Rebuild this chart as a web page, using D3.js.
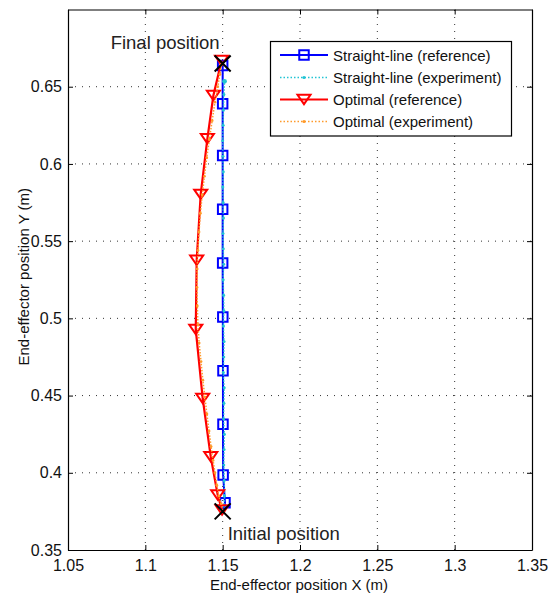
<!DOCTYPE html>
<html>
<head>
<meta charset="utf-8">
<script src="https://cdn.jsdelivr.net/npm/d3@7"></script>
<style>
  html, body { margin: 0; padding: 0; background: #fff; }
  svg { display: block; font-family: "Liberation Sans", Arial, sans-serif; }
</style>
</head>
<body>
<svg id="chart" width="549" height="599"></svg>
<script>
// Axis ticks
const xTicks = [1.05, 1.1, 1.15, 1.2, 1.25, 1.3, 1.35];
const yTicks = [0.35, 0.4, 0.45, 0.5, 0.55, 0.6, 0.65];

// Straight-line path, reference (x, y in metres)
const straightRefX = [1.1505, 1.1515, 1.1503, 1.1502, 1.1502, 1.1501, 1.1500, 1.1500, 1.1500, 1.1500, 1.1500, 1.1500];
const straightRefY = [0.3752, 0.3806, 0.3985, 0.4315, 0.4660, 0.5009, 0.5358, 0.5706, 0.6055, 0.6389, 0.6637, 0.6650];

// Straight-line path, measured
const straightExpX = [1.1508, 1.1512, 1.1510, 1.1507, 1.1509, 1.1511, 1.1506, 1.1508, 1.1510, 1.1504,
                      1.1507, 1.1509, 1.1505, 1.1508, 1.1506, 1.1503, 1.1506, 1.1504, 1.1502, 1.1505,
                      1.1503, 1.1501, 1.1504, 1.1502, 1.1500, 1.1503, 1.1505, 1.1508, 1.1512];
const straightExpY = [0.3755, 0.3850, 0.3950, 0.4050, 0.4150, 0.4250, 0.4350, 0.4450, 0.4550, 0.4650,
                      0.4750, 0.4850, 0.4950, 0.5050, 0.5150, 0.5250, 0.5350, 0.5450, 0.5550, 0.5650,
                      0.5750, 0.5850, 0.5950, 0.6050, 0.6150, 0.6250, 0.6350, 0.6450, 0.6535];

// Optimal path, reference
const optimalRefX = [1.1500, 1.1496, 1.1468, 1.1423, 1.1371, 1.1326, 1.1332, 1.1358, 1.1401, 1.1440, 1.1493];
const optimalRefY = [0.3752, 0.3759, 0.3856, 0.4104, 0.4481, 0.4928, 0.5376, 0.5803, 0.6163, 0.6443, 0.6670];

// Optimal path, measured
const optimalExpX = [1.1502, 1.1490, 1.1475, 1.1462, 1.1450, 1.1438, 1.1425, 1.1412, 1.1398, 1.1385,
                     1.1372, 1.1360, 1.1348, 1.1340, 1.1336, 1.1334, 1.1335, 1.1340, 1.1347, 1.1356,
                     1.1368, 1.1382, 1.1397, 1.1414, 1.1432, 1.1450, 1.1468, 1.1482, 1.1492];
const optimalExpY = [0.3755, 0.3800, 0.3850, 0.3920, 0.4000, 0.4080, 0.4170, 0.4270, 0.4380, 0.4490,
                     0.4600, 0.4720, 0.4840, 0.4960, 0.5080, 0.5200, 0.5320, 0.5440, 0.5560, 0.5680,
                     0.5800, 0.5920, 0.6040, 0.6160, 0.6280, 0.6400, 0.6500, 0.6580, 0.6645];

// Start and end points of the movement
const endpointX = [1.15, 1.15];
const endpointY = [0.375, 0.665];
const endpointLabels = ["Initial position", "Final position"];

const legendLabels = ["Straight-line (reference)", "Straight-line (experiment)", "Optimal (reference)", "Optimal (experiment)"];

const zip = (xs, ys) => xs.map((x, i) => [x, ys[i]]);

const svg = d3.select("#chart");
const margin = { left: 68, right: 17, top: 9.5, bottom: 49 };
const W = 549, H = 599;

const x = d3.scaleLinear().domain([1.05, 1.35]).range([margin.left, W - margin.right]);
const y = d3.scaleLinear().domain([0.35, 0.70]).range([H - margin.bottom, margin.top]);

const x0 = x.range()[0], x1 = x.range()[1];
const y0 = y.range()[0], y1 = y.range()[1];

// Dotted grid
const grid = svg.append("g").attr("stroke", "#333").attr("stroke-width", 1).attr("stroke-dasharray", "1,6");
grid.selectAll(".gx").data(xTicks.slice(1, -1)).join("line")
  .attr("x1", d => x(d)).attr("x2", d => x(d)).attr("y1", y0).attr("y2", y1);
grid.selectAll(".gy").data(yTicks.slice(1)).join("line")
  .attr("x1", x0).attr("x2", x1).attr("y1", d => y(d)).attr("y2", d => y(d));

// Axes with inward ticks on all four sides
const tickLen = 5;
const axB = svg.append("g").attr("transform", `translate(0,${y0})`)
  .call(d3.axisBottom(x).tickValues(xTicks).tickFormat(d3.format("")).tickSizeInner(-tickLen).tickSizeOuter(0).tickPadding(10));
const axT = svg.append("g").attr("transform", `translate(0,${y1})`)
  .call(d3.axisTop(x).tickValues(xTicks).tickFormat("").tickSizeInner(-tickLen).tickSizeOuter(0));
const axL = svg.append("g").attr("transform", `translate(${x0},0)`)
  .call(d3.axisLeft(y).tickValues(yTicks).tickFormat(d3.format("")).tickSizeInner(-tickLen).tickSizeOuter(0).tickPadding(6));
const axR = svg.append("g").attr("transform", `translate(${x1},0)`)
  .call(d3.axisRight(y).tickValues(yTicks).tickFormat("").tickSizeInner(-tickLen).tickSizeOuter(0));
[axB, axT, axL, axR].forEach(a => {
  a.select(".domain").attr("stroke", "#000").attr("stroke-width", 1.2);
  a.selectAll(".tick line").attr("stroke", "#000").attr("stroke-width", 1);
  a.selectAll("text").attr("font-size", 16).attr("fill", "#111").attr("font-family", "Liberation Sans, Arial, sans-serif");
});

// Axis titles
svg.append("text").attr("x", (x0 + x1) / 2 - 1).attr("y", 590).attr("text-anchor", "middle")
  .attr("font-size", 15).attr("fill", "#111").text("End-effector position X (m)");
svg.append("text").attr("transform", `translate(29,${(y0 + y1) / 2 - 3}) rotate(-90)`).attr("text-anchor", "middle")
  .attr("font-size", 15).attr("fill", "#111").text("End-effector position Y (m)");

const line = d3.line().x(d => x(d[0])).y(d => y(d[1]));
const plot = svg.append("g");

const blue = "#0000ff", cyan = "#22c4d4", red = "#ff0000", orange = "#ff9a2a";
const squareSym = d3.symbol().type(d3.symbolSquare).size(90);
const triPath = s => `M${-s},${-s * 0.72}L${s},${-s * 0.72}L0,${s * 0.72}Z`;

// Straight-line reference
const sRef = zip(straightRefX, straightRefY);
plot.append("path").datum(sRef).attr("d", line).attr("fill", "none").attr("stroke", blue).attr("stroke-width", 2);
plot.selectAll(".sq").data(sRef.slice(1, -1)).join("path")
  .attr("transform", d => `translate(${x(d[0])},${y(d[1])})`).attr("d", squareSym)
  .attr("fill", "none").attr("stroke", blue).attr("stroke-width", 2);

// Straight-line measured
const sExp = zip(straightExpX, straightExpY);
plot.append("path").datum(sExp).attr("d", line).attr("fill", "none").attr("stroke", cyan)
  .attr("stroke-width", 1.5).attr("stroke-dasharray", "1.5,1.5");
plot.selectAll(".cd").data(sExp).join("circle")
  .attr("cx", d => x(d[0])).attr("cy", d => y(d[1])).attr("r", 1.5).attr("fill", cyan);
plot.append("circle").attr("cx", x(straightExpX[straightExpX.length - 1])).attr("cy", y(straightExpY[straightExpY.length - 1]))
  .attr("r", 2.4).attr("fill", cyan);

// Optimal reference
const oRef = zip(optimalRefX, optimalRefY);
plot.append("path").datum(oRef).attr("d", line).attr("fill", "none").attr("stroke", red).attr("stroke-width", 2.2);
plot.selectAll(".tri").data(oRef.slice(1)).join("path")
  .attr("transform", d => `translate(${x(d[0])},${y(d[1])})`).attr("d", triPath(6.5))
  .attr("fill", "none").attr("stroke", red).attr("stroke-width", 2);

// Optimal measured
const oExp = zip(optimalExpX, optimalExpY);
plot.append("path").datum(oExp).attr("d", line).attr("fill", "none").attr("stroke", orange)
  .attr("stroke-width", 1.5).attr("stroke-dasharray", "1.5,1.5");
plot.selectAll(".od").data(oExp).join("circle")
  .attr("cx", d => x(d[0])).attr("cy", d => y(d[1])).attr("r", 1.4).attr("fill", orange);

// Start / end crosses and their labels
const ends = zip(endpointX, endpointY);
plot.selectAll(".xm").data(ends).join("path")
  .attr("transform", d => `translate(${x(d[0])},${y(d[1])})`)
  .attr("d", "M-8,-8L8,8M-8,8L8,-8").attr("stroke", "#000").attr("stroke-width", 2).attr("fill", "none");
svg.append("text").attr("x", x(endpointX[0]) + 5).attr("y", y(endpointY[0]) + 29)
  .attr("font-size", 18.5).attr("fill", "#222").text(endpointLabels[0]);
svg.append("text").attr("x", x(endpointX[1]) - 3).attr("y", y(endpointY[1]) - 15).attr("text-anchor", "end")
  .attr("font-size", 18.5).attr("fill", "#222").text(endpointLabels[1]);

// Legend
const lg = svg.append("g");
lg.append("rect").attr("x", 270.5).attr("y", 41.5).attr("width", 241).attr("height", 94.5)
  .attr("fill", "#fff").attr("stroke", "#000").attr("stroke-width", 1.2);
const legendY = [55, 77.5, 99.5, 121.5];
const lx0 = 280, lx1 = 328, lxm = 304;
const legendStyles = [
  { color: blue, width: 2, dash: null, marker: "square" },
  { color: cyan, width: 1.5, dash: "1.5,2", marker: "dot" },
  { color: red, width: 2.2, dash: null, marker: "tri" },
  { color: orange, width: 1.5, dash: "1.5,2", marker: "dot" }
];
legendLabels.forEach((lab, i) => {
  const st = legendStyles[i], ly = legendY[i];
  const ln = lg.append("line").attr("x1", lx0).attr("x2", lx1).attr("y1", ly).attr("y2", ly)
    .attr("stroke", st.color).attr("stroke-width", st.width);
  if (st.dash) ln.attr("stroke-dasharray", st.dash);
  if (st.marker === "square") {
    lg.append("path").attr("transform", `translate(${lxm},${ly})`).attr("d", squareSym)
      .attr("fill", "none").attr("stroke", st.color).attr("stroke-width", 2);
  } else if (st.marker === "tri") {
    lg.append("path").attr("transform", `translate(${lxm},${ly})`).attr("d", triPath(6.5))
      .attr("fill", "none").attr("stroke", st.color).attr("stroke-width", 2);
  } else {
    lg.append("circle").attr("cx", lxm).attr("cy", ly).attr("r", 1.6).attr("fill", st.color);
  }
  lg.append("text").attr("x", 333).attr("y", ly + 5.5).attr("font-size", 15).attr("fill", "#111").text(lab);
});
</script>
</body>
</html>
